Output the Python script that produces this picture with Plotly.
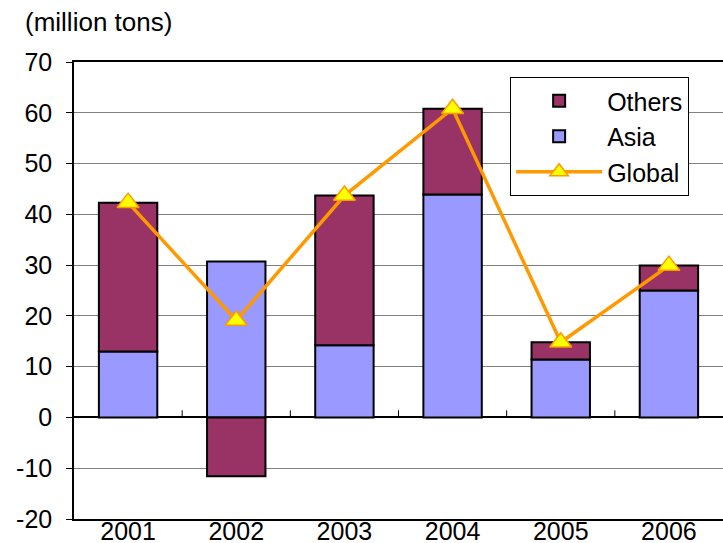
import plotly.graph_objects as go

years = ["2001", "2002", "2003", "2004", "2005", "2006"]
asia = [13.0, 30.7, 14.2, 43.9, 11.4, 25.0]
others = [29.3, -11.6, 29.5, 16.9, 3.4, 4.9]
global_total = [42.3, 19.1, 43.7, 60.8, 14.8, 29.9]
y_ticks = [-20, -10, 0, 10, 20, 30, 40, 50, 60, 70]
y_ticklabels = ["-20", "-10", "0", "10", "20", "30", "40", "50", "60", "70"]

FONT = "Liberation Sans, Arial, sans-serif"
FS = 25

fig = go.Figure()
fig.add_trace(go.Bar(x=years, y=asia, name="Asia", legendrank=2, legendgroup="b",
                     marker=dict(color="#9999FF", line=dict(color="black", width=2)),
                     width=0.54))
fig.add_trace(go.Bar(x=years, y=others, name="Others", legendrank=1, legendgroup="a",
                     marker=dict(color="#993366", line=dict(color="black", width=2)),
                     width=0.54))
fig.add_trace(go.Scatter(x=years, y=global_total, name="Global", legendrank=3,
                         legendgroup="c", mode="lines+markers",
                         line=dict(color="#FF9900", width=3.5),
                         marker=dict(symbol="triangle-up", size=19, color="#FFFF00",
                                     line=dict(color="#FF9900", width=1.5))))

# small tick marks between categories on the zero line
for k in range(1, len(years)):
    fig.add_shape(type="line", xref="x", yref="y", x0=k - 0.5, x1=k - 0.5, y0=0, y1=1.4,
                  line=dict(color="black", width=1))

fig.add_annotation(text="(million tons)", xref="paper", yref="paper", x=-0.079, y=1.0,
                   yshift=40, xanchor="left", yanchor="middle", showarrow=False,
                   font=dict(size=26, color="black", family=FONT))

fig.update_layout(
    barmode="relative",
    width=723, height=543,
    margin=dict(l=74, r=0, t=62, b=24, autoexpand=False),
    plot_bgcolor="white", paper_bgcolor="white",
    font=dict(family=FONT, size=FS, color="black"),
    legend=dict(x=0.672, y=0.967, xanchor="left", yanchor="top",
                bordercolor="black", borderwidth=1, bgcolor="white",
                traceorder="normal", tracegroupgap=8, itemwidth=86,
                font=dict(size=FS, family=FONT)),
)
fig.update_xaxes(range=[-0.5, 5.5], showline=True, linecolor="black", linewidth=1.5,
                 mirror=True, ticks="", automargin=False, ticklabelstandoff=-11,
                 tickfont=dict(size=FS))
fig.update_yaxes(range=[-20, 70], tickvals=y_ticks, ticktext=y_ticklabels,
                 showgrid=True, gridcolor="#808080",
                 gridwidth=1, zeroline=True, zerolinecolor="black", zerolinewidth=1.5,
                 showline=True, linecolor="black", linewidth=1.5, ticks="outside",
                 ticklen=6, tickcolor="black", ticklabelstandoff=9, automargin=False,
                 tickfont=dict(size=FS))

# drop the default page margin so the figure fills the window exactly
fig.write_html("out.html", config={"displayModeBar": False},
               post_script="document.body.style.margin = '0';")
